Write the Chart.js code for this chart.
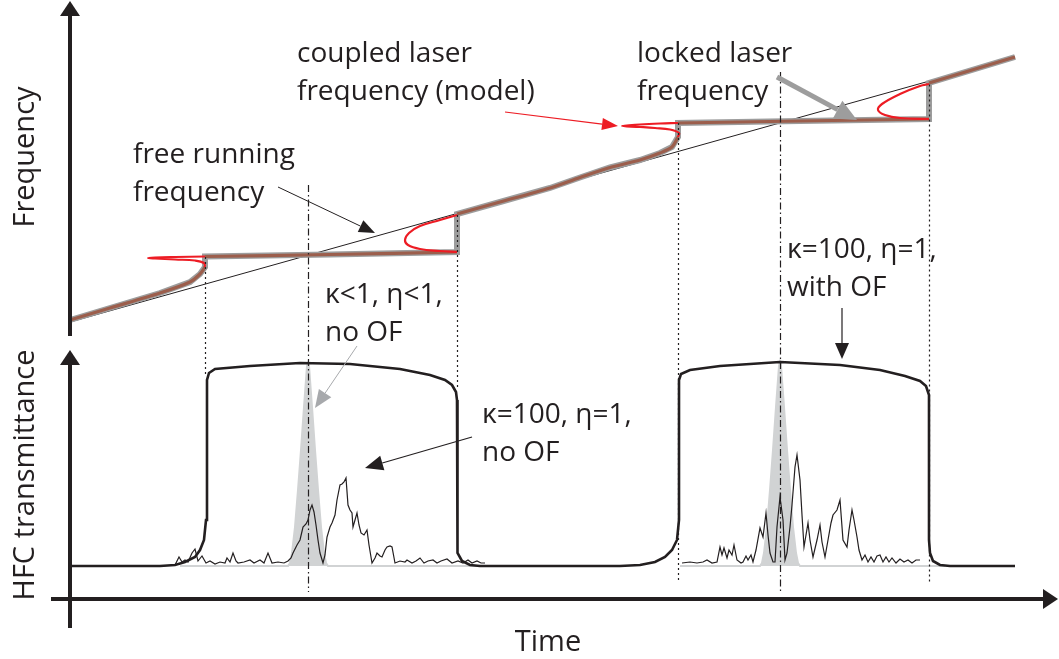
<!DOCTYPE html>
<html>
<head>
<meta charset="utf-8">
<script src="https://cdn.jsdelivr.net/npm/chart.js@4.4.1/dist/chart.umd.min.js"></script>
<style>
  html, body { margin: 0; padding: 0; background: #fff; }
  #wrap { width: 1059px; height: 659px; position: relative; }
</style>
</head>
<body>
<div id="wrap"><canvas id="hfcChart"></canvas></div>
<script>
// schematic units: time t (a.u.), laser frequency F (a.u.), HFC transmittance T (%)

// free running laser frequency (straight ramp)
const freeRun = [[0, 0], [189, 106]];

// coupled laser frequency, pieces between the locking jumps
const pullA = [[0, 0.8], [8, 5.6], [18, 11.6], [24, 16], [26, 19.2], [27, 22]];
const plateau1 = [[27, 26.2], [52, 27], [77.4, 28]];
const pullB = [[77.4, 43.2], [86, 48], [96, 53.6], [102, 57.8], [108, 61.8], [114, 64.8], [118, 67.6], [120.4, 70], [121.6, 74]];
const plateau2 = [[121.6, 79.6], [146, 80.4], [171.8, 81.2]];
const pullC = [[171.8, 95.6], [189, 106]];

// model branches (S-shaped folds) at every jump
const fold1 = [[27, 22], [26.8, 23.6], [25, 24.6], [21, 25], [17, 25.4], [15.6, 25.6], [17, 25.8], [21, 26], [27, 26.2]];
const fold2 = [[77.4, 28], [74, 28.4], [70, 29.2], [67.6, 30.8], [67, 32.8], [67.8, 35.6], [70, 38.4], [74, 40.8], [77.4, 42.8]];
const fold3 = [[121.6, 74], [121.8, 75.6], [120, 77], [117, 77.6], [114, 78], [110.4, 78.4], [114, 79], [118, 79.4], [121.6, 79.6]];
const fold4 = [[171.8, 81.2], [166, 81.6], [163, 82.8], [161.6, 84.8], [162.4, 87.2], [166, 91.2], [170, 94.4], [171.8, 95.2]];

// HFC transmittance of the locked laser (two lock windows)
const lockWindows = [
  [0, 0], [18, 0], [21, 0.5], [23, 2], [25, 4.5], [26, 8], [26.8, 13], [27.2, 23], [27.4, 93], [27.8, 96.5],
  [29, 98.5], [36, 100], [46, 101.5], [56, 101], [66, 98.5], [72, 95.5], [75, 93], [76.4, 90.5], [77.2, 87],
  [77.4, 83], [77.4, 13], [77.6, 6.5], [78.4, 2.5], [80, 0.5], [82, 0],
  [110, 0], [114, 0.5], [117, 2], [119, 4.5], [120.4, 8], [121.4, 13], [121.8, 23], [121.8, 93], [122.2, 96],
  [124, 98], [130, 100], [142, 102], [154, 100.5], [162, 98], [167, 95], [170, 92.5], [171.2, 90], [171.8, 85.5],
  [171.8, 13], [172, 6.5], [172.6, 2.5], [174, 0.5], [176, 0], [189, 0]
];

// kappa<1, eta<1, no OF : narrow resonance peaks
const weakPeak1 = [[22, 0], [43.6, 0], [44, 1.5], [44.4, 6.5], [45, 19.5], [45.6, 38], [46.2, 58], [46.8, 79.5], [47.4, 100],
  [47.6, 101.5], [47.8, 100], [48.4, 79.5], [49, 58], [49.6, 38], [50.2, 19.5], [50.8, 6.5], [51.2, 1.5], [51.6, 0], [86, 0]];
const weakPeak2 = [[122, 0], [138, 0], [138.4, 1.5], [138.8, 6.5], [139.4, 19.5], [140, 38], [140.6, 58], [141.2, 79.5], [141.8, 100],
  [142, 102], [142.2, 100], [142.8, 79.5], [143.4, 58], [144, 38], [144.6, 19.5], [145.2, 6.5], [145.6, 1.5], [146, 0], [175, 0]];

// kappa=100, eta=1, no OF : measured-like noisy transmission
const noisy1 = [[21, 0.5], [21.8, 4.5], [22.4, 2], [23, 3], [23.6, 2], [24.4, 6.5], [25, 8.5], [25.6, 2.5], [26.4, 5], [27.2, 1.5],
  [28, 2.5], [29, 1], [30, 2], [31, 1.5], [31.4, 4], [32, 2], [32.6, 6.5], [33.2, 2.5], [33.6, 1.5], [34.8, 2], [36, 3],
  [36.8, 1.5], [38, 3], [38.8, 1.5], [39.6, 6.5], [40.4, 1.5], [41.6, 2], [42.8, 1.5], [43.6, 2.5], [44.2, 4], [44.6, 6.5],
  [45.4, 10.5], [46, 13], [46.6, 19.5], [47.2, 21], [47.6, 23], [48, 28], [48.4, 30.5], [48.8, 27], [49.2, 20.5], [49.6, 13],
  [50, 6.5], [50.6, 1.5], [51, 5.5], [51.4, 14.5], [52, 19.5], [52.4, 21.5], [53, 25.5], [53.4, 33], [54, 40.5], [54.4, 41],
  [54.8, 42], [55.2, 44], [55.6, 30.5], [56, 28], [56.4, 26.5], [56.6, 19.5], [57, 23], [57.4, 26.5], [57.8, 20.5], [58.2, 16.5],
  [58.8, 15.5], [59.4, 18], [59.8, 10.5], [60.4, 1.5], [61, 4], [61.4, 6.5], [62, 5], [62.4, 4.5], [63, 8], [63.4, 9.5], [64, 10],
  [64.4, 9.5], [65, 1.5], [66, 2.5], [67, 2], [67.4, 3], [68.4, 1.5], [69.2, 2.5], [70, 4], [70.8, 1.5], [71.6, 2.5], [72.6, 3],
  [73.4, 1.5], [74.2, 2.5], [75.4, 3.5], [76.4, 1.5], [77.6, 2.5], [78.6, 1.5], [79.6, 3], [80.4, 1.5], [81.4, 2.5], [82.2, 1.5], [83, 1.5]];
// kappa=100, eta=1, with OF
const noisy2 = [[122.4, 1.5], [124, 2], [125.4, 1.5], [126.6, 2], [127.4, 3], [128.4, 1.5], [129.4, 2], [130, 9.5], [130.4, 5.5],
  [130.8, 9], [131.4, 4], [131.8, 8], [132.4, 5.5], [132.8, 10.5], [133.4, 3], [134.2, 1.5], [134.6, 2], [135.2, 5], [135.6, 3],
  [136.2, 5.5], [136.6, 2], [137.2, 8], [138, 19], [138.6, 14.5], [139.2, 26.5], [139.6, 15.5], [140, 6.5], [140.6, 2], [141, 2],
  [141.4, 19.5], [142, 34.5], [142.6, 23], [143, 3], [143.4, 6.5], [144, 19.5], [144.4, 30.5], [145, 49.5], [145.4, 55.5], [146, 43],
  [146.4, 25.5], [146.8, 9.5], [147.2, 15.5], [147.6, 21.5], [148, 13], [148.6, 4.5], [149.4, 13], [150, 20.5], [150.4, 12],
  [151, 4.5], [151.6, 13], [152.2, 21.5], [152.6, 25.5], [153.4, 28], [154, 33], [154.6, 13], [155.4, 9.5], [155.8, 18], [156.4, 28],
  [156.8, 23], [157.4, 14.5], [157.8, 8], [158.4, 3], [159, 5.5], [159.6, 2], [160.2, 4.5], [160.8, 2], [161.4, 5], [162, 5.5],
  [162.6, 2], [163.2, 4.5], [163.8, 2], [164.4, 4], [165.2, 1.5], [166, 3.5], [166.8, 2], [167.6, 3], [168.4, 1.5], [169.2, 3], [170, 3]];

// vertical markers: lock edges (dotted) and resonance centres (dash-dot)
const markerTimes = [27, 77.4, 121.6, 171.8, 47.6, 142];
const markerTopF = [26, 42.8, 79.6, 95, 54.8, 100];
const markerBottomT = [96, 88, -7, -8.5, -13, -13];
const markerKind = ['dot', 'dot', 'dot', 'dot', 'dashdot', 'dashdot'];

const ink = '#231f20';
const red = '#ed1c24';
const brown = '#9c5e4c';
const grey = '#9d9d9d';
const lightGrey = '#d1d3d4';
const font = '"Open Sans", Lato, sans-serif';

const pts = arr => arr.map(([x, y]) => ({ x, y }));

function lineSet(data, axis, color, width, order, extra) {
  return Object.assign({
    data: pts(data), yAxisID: axis, showLine: true, pointRadius: 0,
    borderColor: color, borderWidth: width, order: order, tension: 0, fill: false
  }, extra || {});
}

const datasets = [
  lineSet(weakPeak1, 'yT', lightGrey, 2, 9, { fill: 'origin', backgroundColor: lightGrey }),
  lineSet(weakPeak2, 'yT', lightGrey, 2, 9, { fill: 'origin', backgroundColor: lightGrey }),
  lineSet(freeRun, 'yF', ink, 1, 8),
  lineSet([...pullA, ...plateau1, ...pullB, ...plateau2, ...pullC], 'yF', grey, 6, 7),
  ...[pullA, plateau1, pullB, plateau2, pullC].map(seg => lineSet(seg, 'yF', brown, 3.2, 6, { tension: 0.3 })),
  ...[fold1, fold2, fold3, fold4].map(f => lineSet(f, 'yF', red, 2.2, 5, { tension: 0.4 })),
  lineSet(lockWindows, 'yT', ink, 2.6, 4),
  lineSet(noisy1, 'yT', ink, 1.2, 3),
  lineSet(noisy2, 'yT', ink, 1.2, 3)
];

// annotation texts: first-line baseline in data units, extra lines stepped down
const notes = [
  { lines: ['coupled laser', 'frequency (model)'], t: 45.4, axis: 'yF', v: 104 },
  { lines: ['locked laser', 'frequency'], t: 113.4, axis: 'yF', v: 104 },
  { lines: ['free running', 'frequency'], t: 12.6, axis: 'yF', v: 63.6 },
  { lines: ['\u03ba<1, \u03b7<1,', 'no OF'], t: 51, axis: 'yT', v: 131.5 },
  { lines: ['\u03ba=100, \u03b7=1,', 'no OF'], t: 82.4, axis: 'yT', v: 71.5 },
  { lines: ['\u03ba=100, \u03b7=1,', 'with OF'], t: 143.4, axis: 'yT', v: 154 }
];

const pointers = [
  { axis: 'yF', from: [87, 84], to: [109.6, 78.4], color: red, lw: 1.2, len: 16, wid: 12 },
  { axis: 'yF', from: [141.4, 98], to: [157.4, 80.8], color: grey, lw: 5, len: 22, wid: 20 },
  { axis: 'yF', from: [41.6, 54], to: [61, 35.6], color: ink, lw: 1, len: 16, wid: 13 },
  { axis: 'yT', from: [57.4, 110], to: [49, 79], color: '#a7a9ac', lw: 1, len: 18, wid: 15 },
  { axis: 'yT', from: [80.4, 64.5], to: [59, 49], color: ink, lw: 1.2, len: 18, wid: 15 },
  { axis: 'yT', from: [154.4, 129], to: [154.4, 103.5], color: ink, lw: 1.2, len: 16, wid: 14 }
];

function arrow(ctx, x0, y0, x1, y1, color, lw, len, wid) {
  const ang = Math.atan2(y1 - y0, x1 - x0);
  const bx = x1 - Math.cos(ang) * len, by = y1 - Math.sin(ang) * len;
  ctx.strokeStyle = color; ctx.fillStyle = color; ctx.lineWidth = lw;
  ctx.beginPath(); ctx.moveTo(x0, y0); ctx.lineTo(bx, by); ctx.stroke();
  ctx.beginPath();
  ctx.moveTo(x1, y1);
  ctx.lineTo(bx + Math.sin(ang) * wid / 2, by - Math.cos(ang) * wid / 2);
  ctx.lineTo(bx - Math.sin(ang) * wid / 2, by + Math.cos(ang) * wid / 2);
  ctx.closePath(); ctx.fill();
}

const decorations = {
  id: 'decorations',
  afterDatasetsDraw(chart) {
    const { ctx, scales } = chart;
    const { x, yF, yT } = scales;
    ctx.save();
    // guide lines through the jumps and resonance centres
    ctx.strokeStyle = ink; ctx.lineWidth = 1.2;
    markerTimes.forEach((t, i) => {
      ctx.setLineDash(markerKind[i] === 'dot' ? [2, 3] : [7, 3, 1.5, 3]);
      const px = Math.round(x.getPixelForValue(t)) + 0.5;
      ctx.beginPath();
      ctx.moveTo(px, yF.getPixelForValue(markerTopF[i]));
      ctx.lineTo(px, yT.getPixelForValue(markerBottomT[i]));
      ctx.stroke();
    });
    ctx.setLineDash([]);

    // axes with arrow heads
    const x0 = x.getPixelForValue(0);
    arrow(ctx, x0, yF.getPixelForValue(-5.6), x0, yF.getPixelForValue(128.4), ink, 4, 15, 20);
    arrow(ctx, x0, yT.getPixelForValue(-31), x0, yT.getPixelForValue(108), ink, 4, 15, 20);
    const ya = yT.getPixelForValue(-16.5);
    arrow(ctx, x.getPixelForValue(-3.8), ya, x.getPixelForValue(197.6), ya, ink, 4, 15, 20);

    pointers.forEach(p => {
      const s = scales[p.axis];
      arrow(ctx, x.getPixelForValue(p.from[0]), s.getPixelForValue(p.from[1]),
        x.getPixelForValue(p.to[0]), s.getPixelForValue(p.to[1]), p.color, p.lw, p.len, p.wid);
    });

    ctx.fillStyle = ink;
    ctx.textBaseline = 'alphabetic';
    ctx.textAlign = 'left';
    ctx.font = '28px ' + font;
    notes.forEach(n => {
      const px = x.getPixelForValue(n.t);
      const py = scales[n.axis].getPixelForValue(n.v);
      n.lines.forEach((line, i) => ctx.fillText(line, px, py + i * 38));
    });

    // axis titles
    ctx.textAlign = 'center';
    ctx.font = '29px ' + font;
    ctx.fillText('Time', 548, 651);
    [['Frequency', 157], ['HFC transmittance', 475]].forEach(([label, cy]) => {
      ctx.save();
      ctx.translate(34, cy);
      ctx.rotate(-Math.PI / 2);
      ctx.fillText(label, 0, 0);
      ctx.restore();
    });
    ctx.restore();
  }
};

new Chart(document.getElementById('hfcChart'), {
  type: 'scatter',
  data: { datasets: datasets },
  options: {
    responsive: true,
    maintainAspectRatio: false,
    animation: false,
    events: [],
    layout: { padding: 0 },
    plugins: { legend: { display: false }, tooltip: { enabled: false } },
    scales: {
      x: { type: 'linear', display: false, min: -14, max: 197.8 },
      yF: { type: 'linear', display: false, min: -134.8, max: 128.8 },
      yT: { type: 'linear', display: false, min: -46.5, max: 283 }
    }
  },
  plugins: [decorations]
});
</script>
</body>
</html>
